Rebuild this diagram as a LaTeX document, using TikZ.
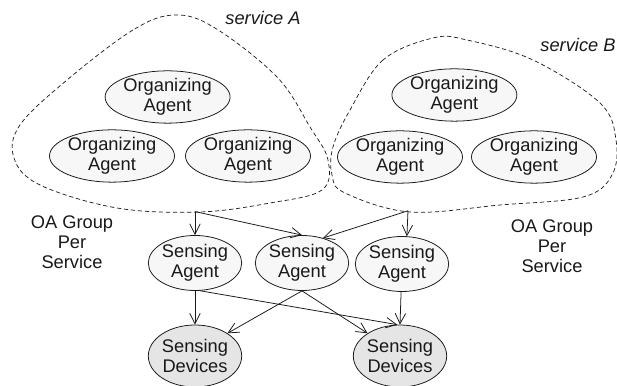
\documentclass[tikz,border=0pt]{standalone}
\usepackage{fontspec}
\setmainfont{Liberation Sans}
\usetikzlibrary{shapes.geometric,arrows.meta}

\begin{document}
\begin{tikzpicture}[agent node/.style={ellipse, draw=black!90, fill=black!3, line width=0.55pt, inner sep=0pt, align=center, font=\fontsize{13}{14.2}\selectfont, text=black!90},
  org node/.style={agent node, minimum width=3.125cm, minimum height=1.25cm},
  sense node/.style={agent node, minimum width=2.25cm, minimum height=1.375cm},
  device node/.style={agent node, fill=black!10, minimum width=2.25cm, minimum height=1.55cm},
  group line/.style={black!90, line width=0.5pt, dash pattern=on 3pt off 2pt},
  note/.style={align=center, font=\fontsize{13}{14.2}\selectfont, text=black!90},
  >={Straight Barb[length=2.6mm,width=2.6mm]}]
  \useasboundingbox (0,0) rectangle (15.425,9.65);

  % groups of organizing agents
  \draw[group line] plot[smooth cycle, tension=0.6] coordinates {(4.375,9.275) (3.325,8.9) (1.675,7.65) (0.5,6.525) (0.35,5.7) (1.0,5.025) (2.925,4.45) (5.0,4.35) (6.75,4.575) (8.05,4.9) (8.2,5.65) (7.75,6.475) (6.925,7.725) (5.375,8.95)};
  \draw[group line] plot[smooth cycle, tension=0.6] coordinates {(10.825,8.7) (9.575,8.15) (8.75,6.9) (8.325,5.975) (8.3,5.275) (8.625,4.825) (10.25,4.35) (12.5,4.525) (14.575,4.725) (15.3,5.275) (15.4,6.15) (15.0,7.075) (13.325,8.15) (11.675,8.65)};
  \node[note, font=\fontsize{13}{14.2}\selectfont\itshape] (srvA) at (6.575,9.2) {service A};
  \node[note, font=\fontsize{13}{14.2}\selectfont\itshape] (srvB) at (14.45,8.525) {service B};
  \node[note] (grpA) at (1.8,3.6) {OA Group\\Per\\Service};
  \node[note] (grpB) at (13.8,3.5) {OA Group\\Per\\Service};

  \node[org node] (oa1) at (4.19,7.225) {Organizing\\Agent};
  \node[org node] (oa2) at (2.8,5.75) {Organizing\\Agent};
  \node[org node] (oa3) at (6.2,5.75) {Organizing\\Agent};
  \node[org node] (ob1) at (11.36,7.275) {Organizing\\Agent};
  \node[org node] (ob2) at (10.0,5.725) {Organizing\\Agent};
  \node[org node] (ob3) at (13.35,5.725) {Organizing\\Agent};

  \coordinate (jA) at (4.875,4.36);
  \coordinate (jB) at (10.2,4.38);

  \node[sense node] (sa1) at (4.875,3.075) {Sensing\\Agent};
  \node[sense node] (sa2) at (7.55,3.075) {Sensing\\Agent};
  \node[sense node] (sa3) at (10.05,3.05) {Sensing\\Agent};
  \node[device node] (sd1) at (4.875,0.75) {Sensing\\Devices};
  \node[device node] (sd2) at (10.0,0.75) {Sensing\\Devices};

  \path[black!90, line width=0.55pt]
  (jA) [->] edge (sa1.north)
  (jA) [->] edge (sa2.north)
  (jB) [->] edge (sa2.50)
  (jB) [->] edge (sa3.80)
  (sa1) [->] edge (sd1.north)
  (sa1.-80) [->] edge (sd2.95)
  (sa2.south) [->] edge (sd1.35)
  (sa2.south) [->] edge (sd2.145)
  (sa3) [->] edge (sd2.north);
\end{tikzpicture}
\end{document}
